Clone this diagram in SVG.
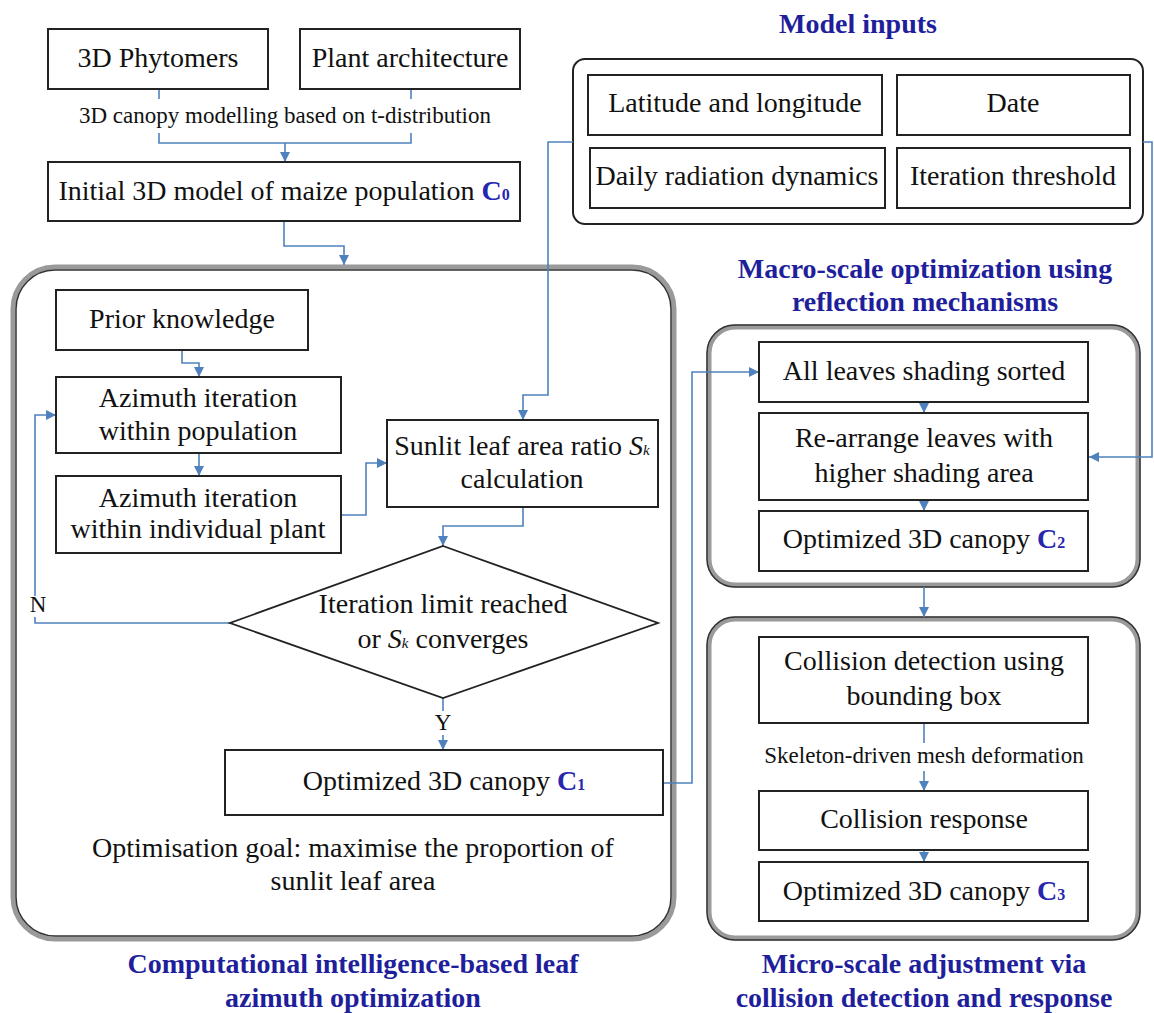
<svg xmlns="http://www.w3.org/2000/svg" width="1154" height="1013" viewBox="0 0 1154 1013" font-family="'Liberation Serif', 'DejaVu Serif', serif">
<style>
  text { font-family: 'Liberation Serif', 'Tinos', 'DejaVu Serif', serif; fill: #111; }
  .t { font-size: 28px; text-anchor: middle; }
  .lab { font-size: 23px; text-anchor: middle; }
  .title { font-size: 28px; font-weight: bold; fill: #1f1f9c; text-anchor: middle; }
  .cb { font-weight: bold; fill: #2626ae; }
  .sub { font-size: 16px; font-weight: bold; fill: #2626ae; }
  .it { font-style: italic; }
  .ks { font-size: 15px; font-style: italic; }
  .box { fill: #fff; stroke: #222; stroke-width: 2; }
  .grp { fill: #fff; stroke: #9a9a9a; stroke-width: 5; }
  .grpin { fill: none; stroke: #333; stroke-width: 1.5; }
  .con { fill: none; stroke: #4f81bd; stroke-width: 1.6; }
  .arr { fill: none; stroke: #4f81bd; stroke-width: 1.6; marker-end: url(#ah); }
</style>
<defs>
  <marker id="ah" markerUnits="userSpaceOnUse" markerWidth="10" markerHeight="10" refX="10" refY="5" orient="auto">
    <path d="M0,0 L10,5 L0,10 z" fill="#4f81bd"/>
  </marker>
</defs>
<rect width="1154" height="1013" fill="#fff"/>

<!-- group containers -->
<g id="group-azimuth">
  <rect class="grp" x="13" y="267" width="661" height="672" rx="42"/>
  <rect class="grpin" x="16" y="270" width="655" height="666" rx="39"/>
  <text class="title" x="353" y="973">Computational intelligence-based leaf</text>
  <text class="title" x="353" y="1007">azimuth optimization</text>
</g>
<g id="group-inputs">
  <rect x="573" y="59" width="570" height="165" rx="12" fill="#fff" stroke="#222" stroke-width="2"/>
  <text class="title" x="858" y="33">Model inputs</text>
</g>
<g id="group-macro">
  <rect class="grp" x="709" y="327" width="429" height="258" rx="26"/>
  <rect class="grpin" x="707" y="325" width="433" height="262" rx="28"/>
  <text class="title" x="925" y="278">Macro-scale optimization using</text>
  <text class="title" x="925" y="311">reflection mechanisms</text>
</g>
<g id="group-micro">
  <rect class="grp" x="709" y="619" width="429" height="319" rx="26"/>
  <rect class="grpin" x="707" y="617" width="433" height="323" rx="28"/>
  <text class="title" x="924" y="973">Micro-scale adjustment via</text>
  <text class="title" x="924" y="1007">collision detection and response</text>
</g>

<!-- connectors -->
<g id="connectors">
  <path class="con" d="M159 89 V99 M411 89 V99 M159 133 V143 H411 V133"/>
  <path class="arr" d="M285 143 V162"/>
  <path class="arr" d="M284 221 V246 H344 V265"/>
  <path class="arr" d="M573 142 H548 V395 H523 V420"/>
  <path class="arr" d="M1143 142 H1152 V457 H1089"/>
  <path class="arr" d="M182 350 V363 H199 V377"/>
  <path class="arr" d="M199 453 V476"/>
  <path class="arr" d="M341 515 H366 V463 H387"/>
  <path class="arr" d="M523 507 V526 H443 V546"/>
  <path class="con" d="M230 623 H35 V617"/>
  <path class="arr" d="M35 596 V415 H56"/>
  <path class="con" d="M443 698 V711"/>
  <path class="arr" d="M443 735 V750"/>
  <path class="arr" d="M663 783 H692 V372 H759"/>
  <path class="arr" d="M924 402 V413"/>
  <path class="arr" d="M924 500 V511"/>
  <path class="arr" d="M924 587 V617"/>
  <path class="con" d="M924 723 V743"/>
  <path class="arr" d="M924 771 V791"/>
  <path class="arr" d="M924 850 V862"/>
  <text class="lab" x="285" y="123">3D canopy modelling based on t-distribution</text>
  <text class="lab" x="924" y="763">Skeleton-driven mesh deformation</text>
  <text class="lab" x="38" y="612">N</text>
  <text class="lab" x="443" y="730">Y</text>
</g>

<!-- nodes -->
<g id="n-phytomers">
  <rect class="box" x="48" y="29" width="220" height="60"/>
  <text class="t" x="158" y="67">3D Phytomers</text>
</g>
<g id="n-architecture">
  <rect class="box" x="300" y="29" width="220" height="60"/>
  <text class="t" x="410" y="67">Plant architecture</text>
</g>
<g id="n-initial">
  <rect class="box" x="48" y="162" width="472" height="59"/>
  <text class="t" x="284" y="200">Initial 3D model of maize population <tspan class="cb">C</tspan><tspan class="sub">0</tspan></text>
</g>
<g id="n-latlon">
  <rect class="box" x="588" y="75" width="294" height="60"/>
  <text class="t" x="735" y="112">Latitude and longitude</text>
</g>
<g id="n-date">
  <rect class="box" x="897" y="75" width="233" height="60"/>
  <text class="t" x="1013" y="112">Date</text>
</g>
<g id="n-radiation">
  <rect class="box" x="590" y="148" width="295" height="60"/>
  <text class="t" x="737" y="185">Daily radiation dynamics</text>
</g>
<g id="n-threshold">
  <rect class="box" x="897" y="148" width="233" height="60"/>
  <text class="t" x="1013" y="185">Iteration threshold</text>
</g>
<g id="n-prior">
  <rect class="box" x="56" y="290" width="252" height="60"/>
  <text class="t" x="182" y="328">Prior knowledge</text>
</g>
<g id="n-az-pop">
  <rect class="box" x="56" y="377" width="285" height="76"/>
  <text class="t" x="198" y="407">Azimuth iteration</text>
  <text class="t" x="198" y="440">within population</text>
</g>
<g id="n-az-plant">
  <rect class="box" x="56" y="476" width="285" height="77"/>
  <text class="t" x="198" y="507">Azimuth iteration</text>
  <text class="t" x="198" y="538">within individual plant</text>
</g>
<g id="n-sunlit">
  <rect class="box" x="387" y="420" width="271" height="87"/>
  <text class="t" x="522" y="455">Sunlit leaf area ratio <tspan class="it">S</tspan><tspan class="ks">k</tspan></text>
  <text class="t" x="522" y="488">calculation</text>
</g>
<g id="n-decision">
  <polygon points="443,546 658,623 443,698 230,623" fill="#fff" stroke="#222" stroke-width="1.8"/>
  <text class="t" x="443" y="613">Iteration limit reached</text>
  <text class="t" x="443" y="648">or <tspan class="it">S</tspan><tspan class="ks">k</tspan>  converges</text>
</g>
<g id="n-c1">
  <rect class="box" x="225" y="750" width="438" height="65"/>
  <text class="t" x="444" y="790">Optimized 3D canopy <tspan class="cb">C</tspan><tspan class="sub">1</tspan></text>
</g>
<g id="n-goal">
  <text class="t" x="353" y="857">Optimisation goal: maximise the proportion of</text>
  <text class="t" x="353" y="890">sunlit leaf area</text>
</g>
<g id="n-sorted">
  <rect class="box" x="759" y="342" width="329" height="60"/>
  <text class="t" x="924" y="380">All leaves shading sorted</text>
</g>
<g id="n-rearrange">
  <rect class="box" x="759" y="413" width="329" height="87"/>
  <text class="t" x="924" y="447">Re-arrange leaves with</text>
  <text class="t" x="924" y="482">higher shading area</text>
</g>
<g id="n-c2">
  <rect class="box" x="759" y="511" width="329" height="60"/>
  <text class="t" x="924" y="548">Optimized 3D canopy <tspan class="cb">C</tspan><tspan class="sub">2</tspan></text>
</g>
<g id="n-collision">
  <rect class="box" x="759" y="637" width="329" height="86"/>
  <text class="t" x="924" y="670">Collision detection using</text>
  <text class="t" x="924" y="705">bounding box</text>
</g>
<g id="n-response">
  <rect class="box" x="759" y="791" width="329" height="59"/>
  <text class="t" x="924" y="828">Collision response</text>
</g>
<g id="n-c3">
  <rect class="box" x="759" y="862" width="329" height="59"/>
  <text class="t" x="924" y="900">Optimized 3D canopy <tspan class="cb">C</tspan><tspan class="sub">3</tspan></text>
</g>
</svg>
